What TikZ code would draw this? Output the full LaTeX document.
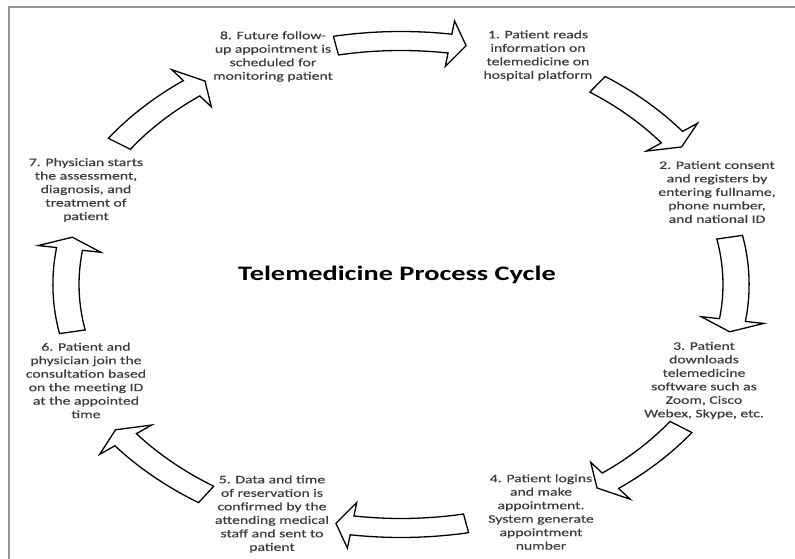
\documentclass[tikz,border=0pt]{standalone}
\usepackage{fontspec}
\setmainfont{Carlito}[FakeStretch=1.376]
\newfontfamily\stagefont{Carlito}[FakeStretch=1.376,FakeBold=0.4]
\usetikzlibrary{positioning}
\definecolor{framegray}{RGB}{150,150,150}
\definecolor{txt}{RGB}{60,60,60}
\tikzset{
  stage/.style={align=center,text=txt,inner sep=0pt,
    font=\stagefont\fontsize{11.4}{13.5}\selectfont},
  cyctitle/.style={text=black,inner sep=0pt,font=\fontsize{20.6}{24}\selectfont\bfseries},
  blockarr/.style={draw=black,fill=white,line width=1.3pt,line join=miter},
}
\newcommand{\arrOut}{253}
\newcommand{\arrIn}{234}
\newcommand{\arrMid}{243.5}
\newcommand{\headOut}{266.5}
\newcommand{\headIn}{220.5}
% curved block arrow from angle #1 to angle #2 (radial scale #3), clockwise
\newcommand{\cycarrow}[3]{%
  \begin{scope}[scale=#3]
  \draw[blockarr] (#1:\arrOut) arc[start angle=#1,end angle=#2+2.8,radius=\arrOut]
    -- (#2+2.8:\headOut) -- (#2:\arrMid) -- (#2+2.8:\headIn)
    -- (#2+2.8:\arrIn) arc[start angle=#2+2.8,end angle=#1,radius=\arrIn] -- cycle;
  \end{scope}}

\begin{document}
\begin{tikzpicture}[x=1pt,y=1pt]
  \useasboundingbox (0,0) rectangle (795,559);
  \draw[framegray,line width=2pt] (795,552) -- (9,552) -- (9,0);

  \coordinate (cyc) at (401,274.5);

  % arrows round the cycle
  \begin{scope}[shift={(cyc)},xscale=1.376]
    \cycarrow{101.2}{78.8}{1}     % 8 -> 1
    \cycarrow{54.5}{34}{1.01}     % 1 -> 2
    \cycarrow{11.2}{-11.2}{1}     % 2 -> 3
    \cycarrow{-35}{-55}{1.02}     % 3 -> 4
    \cycarrow{-78.8}{-101.2}{1}   % 4 -> 5
    \cycarrow{-124}{-145}{1.04}   % 5 -> 6
    \cycarrow{-168.8}{-191.2}{1}  % 6 -> 7
    \cycarrow{145.5}{125}{1.02}   % 7 -> 8
  \end{scope}

  \node[cyctitle] (ttl) at (397,284) {Telemedicine Process Cycle};

  % stages
  \node[stage] (s1) at (538,503.5) {1. Patient reads\\information on\\telemedicine on\\hospital platform};
  \node[stage] (s2) at (717,367) {2. Patient consent\\and registers by\\entering fullname,\\phone number,\\and national ID};
  \node[stage] (s3) at (704,178.5) {3. Patient\\downloads\\telemedicine\\software such as\\Zoom, Cisco\\Webex, Skype, etc.};
  \node[stage] (s4) at (541,47) {4. Patient logins\\and make\\appointment.\\System generate\\appointment\\number};
  \node[stage] (s5) at (272,45) {5. Data and time\\of reservation is\\confirmed by the\\attending medical\\staff and sent to\\patient};
  \node[stage] (s6) at (86,178.5) {6. Patient and\\physician join the\\consultation based\\on the meeting ID\\at the appointed\\time};
  \node[stage] (s7) at (86,369) {7. Physician starts\\the assessment,\\diagnosis, and\\treatment of\\patient};
  \node[stage] (s8) at (273,502.5) {8. Future follow-\\up appointment is\\scheduled for\\monitoring patient};
\end{tikzpicture}
\end{document}
